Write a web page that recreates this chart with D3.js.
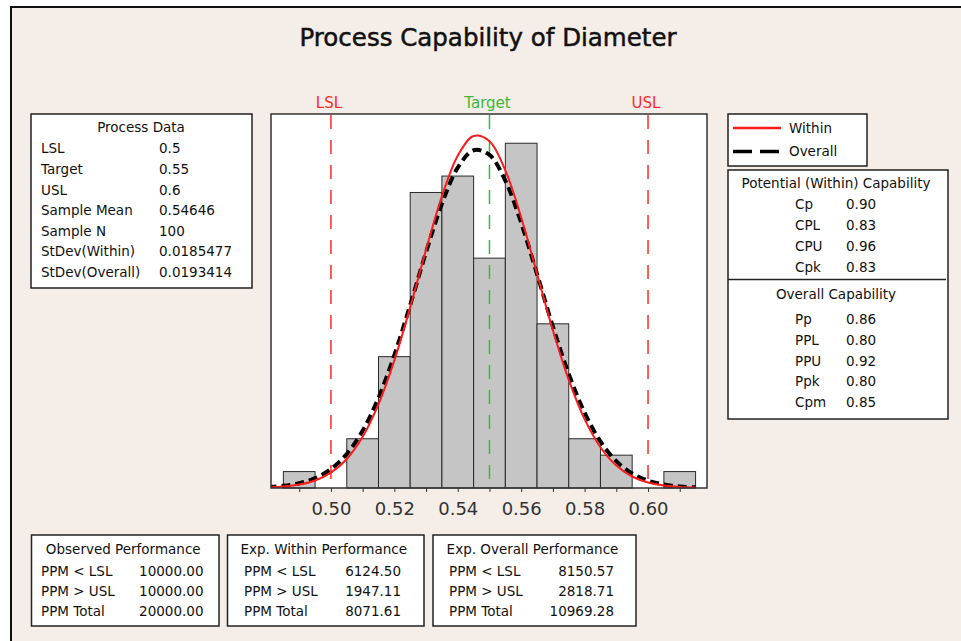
<!DOCTYPE html>
<html><head><meta charset="utf-8">
<script src="https://cdn.jsdelivr.net/npm/d3@7/dist/d3.min.js"></script>
<style>
html,body{margin:0;padding:0;background:#fff;}
svg{display:block;font-family:"DejaVu Sans",sans-serif;}
</style></head><body>
<script>
// ---------- data ----------
const binEdges = [0.485,0.495,0.505,0.515,0.525,0.535,0.545,0.555,0.565,0.575,0.585,0.595,0.605,0.615];
const binCounts = [1,0,3,8,18,19,14,21,10,3,2,0,1];
const curveX = [0.480,0.485,0.490,0.495,0.500,0.505,0.510,0.515,0.520,0.525,0.530,0.535,0.540,0.545,0.550,0.555,0.560,0.565,0.570,0.575,0.580,0.585,0.590,0.595,0.600,0.605,0.610,0.615];
const withinY = [0.035,0.089,0.209,0.458,0.934,1.768,3.116,5.105,7.775,11.014,14.509,17.772,20.244,21.443,21.122,19.347,16.479,13.052,9.613,6.585,4.194,2.484,1.368,0.700,0.334,0.148,0.061,0.023];
const overallY = [0.056,0.132,0.291,0.599,1.152,2.074,3.491,5.495,8.093,11.147,14.363,17.309,19.511,20.571,20.287,18.714,16.146,13.031,9.836,6.945,4.586,2.834,1.637,0.885,0.447,0.212,0.094,0.039];
const specNames = ["LSL","Target","USL"];
const specValues = [0.5,0.55,0.6];
const minorTicks = [0.49,0.50,0.51,0.52,0.53,0.54,0.55,0.56,0.57,0.58,0.59,0.60,0.61];
const tickLabels = [0.50,0.52,0.54,0.56,0.58,0.60];

const processLabels = ["LSL","Target","USL","Sample Mean","Sample N","StDev(Within)","StDev(Overall)"];
const processValues = ["0.5","0.55","0.6","0.54646","100","0.0185477","0.0193414"];
const potentialLabels = ["Cp","CPL","CPU","Cpk"];
const potentialValues = ["0.90","0.83","0.96","0.83"];
const overallLabels = ["Pp","PPL","PPU","Ppk","Cpm"];
const overallValues = ["0.86","0.80","0.92","0.80","0.85"];
const perfLabels = ["PPM < LSL","PPM > USL","PPM Total"];
const observedPerf = ["10000.00","10000.00","20000.00"];
const withinPerf = ["6124.50","1947.11","8071.61"];
const overallPerf = ["8150.57","2818.71","10969.28"];
const legendNames = ["Within","Overall"];

// ---------- layout ----------
const W = 961, H = 641;
const BG = "#f5ede7";
const FS = "13.5px";
const svg = d3.select("body").append("svg").attr("width", W).attr("height", H);

svg.append("rect").attr("width", W).attr("height", H).attr("fill", "#fff");
svg.append("rect").attr("x", 11).attr("y", 7).attr("width", W).attr("height", H).attr("fill", BG)
  .attr("stroke", "#111").attr("stroke-width", 2);

svg.append("text").attr("x", 488).attr("y", 37).attr("dy", "0.36em").attr("text-anchor", "middle")
  .attr("font-size", "24.5px").attr("fill", "#111").attr("stroke", "#111").attr("stroke-width", 0.5)
  .text("Process Capability of Diameter");

const plot = {l: 271, t: 114, r: 707, b: 488};
const x = d3.scaleLinear().domain([0.4811, 0.6186]).range([plot.l, plot.r]);
const y = d3.scaleLinear().domain([0, 22.78]).range([plot.b, plot.t]);

svg.append("rect").attr("x", plot.l).attr("y", plot.t).attr("width", plot.r - plot.l).attr("height", plot.b - plot.t)
  .attr("fill", "#fff");

svg.append("defs").append("clipPath").attr("id", "clip").append("rect")
  .attr("x", plot.l).attr("y", plot.t).attr("width", plot.r - plot.l).attr("height", plot.b - plot.t);

const bins = binCounts.map((c, i) => ({x0: binEdges[i], x1: binEdges[i + 1], c}));
svg.append("g").selectAll("rect").data(bins.filter(d => d.c > 0)).join("rect")
  .attr("x", d => x(d.x0)).attr("width", d => x(d.x1) - x(d.x0))
  .attr("y", d => y(d.c)).attr("height", d => y(0) - y(d.c))
  .attr("fill", "#c5c5c5").attr("stroke", "#2a2a2a").attr("stroke-width", 1);

// spec lines
const specColors = ["#ff2a2a", "#3cb83c", "#ff2a2a"];
specValues.forEach((v, i) => {
  svg.append("line").attr("x1", x(v)).attr("x2", x(v)).attr("y1", plot.t + 1).attr("y2", plot.b)
    .attr("stroke", specColors[i]).attr("stroke-width", 1.5).attr("stroke-dasharray", "14,11");
  svg.append("text").attr("x", x(v) - 2).attr("y", 103).attr("dy", "0.36em").attr("text-anchor", "middle")
    .attr("font-size", "15px").attr("fill", specColors[i]).text(specNames[i]);
});

// curves
const line = d3.line().x((d, i) => x(curveX[i])).y(d => y(d)).curve(d3.curveCatmullRom);
const cg = svg.append("g").attr("clip-path", "url(#clip)");
cg.append("path").attr("d", line(overallY)).attr("fill", "none").attr("stroke", "#000")
  .attr("stroke-width", 4).attr("stroke-dasharray", "9,5");
cg.append("path").attr("d", line(withinY)).attr("fill", "none").attr("stroke", "#ff1a1a")
  .attr("stroke-width", 2);

// frame
svg.append("rect").attr("x", plot.l).attr("y", plot.t).attr("width", plot.r - plot.l).attr("height", plot.b - plot.t)
  .attr("fill", "none").attr("stroke", "#333").attr("stroke-width", 1.5);

// axis
const ax = svg.append("g").attr("transform", `translate(0,${plot.b})`)
  .call(d3.axisBottom(x).tickValues(minorTicks).tickSize(4).tickFormat(""));
ax.select(".domain").remove();
ax.selectAll("line").attr("stroke", "#333");
const ax2 = svg.append("g").attr("transform", `translate(0,${plot.b})`)
  .call(d3.axisBottom(x).tickValues(tickLabels).tickSize(0).tickPadding(14).tickFormat(d3.format(".2f")));
ax2.select(".domain").remove();
ax2.selectAll("text").attr("font-size", "18px").attr("font-family", "DejaVu Sans").attr("fill", "#333");

// helper box
function box(x0, y0, x1, y1) {
  svg.append("rect").attr("x", x0).attr("y", y0).attr("width", x1 - x0).attr("height", y1 - y0)
    .attr("fill", "#fff").attr("stroke", "#222").attr("stroke-width", 1.5);
}
function txt(xp, yp, s, anchor) {
  svg.append("text").attr("x", xp).attr("y", yp).attr("dy", "0.36em").attr("text-anchor", anchor || "start")
    .attr("font-size", FS).attr("fill", "#111").text(s);
}

// Process data
box(31, 114, 252, 288);
txt(141, 127, "Process Data", "middle");
processLabels.forEach((s, i) => {
  txt(41, 148.5 + i * 20.6, s);
  txt(159, 148.5 + i * 20.6, processValues[i]);
});

// legend
box(728, 114, 867, 166);
svg.append("line").attr("x1", 733).attr("x2", 781).attr("y1", 128).attr("y2", 128)
  .attr("stroke", "#ff1a1a").attr("stroke-width", 2.5);
svg.append("line").attr("x1", 733).attr("x2", 779).attr("y1", 151.5).attr("y2", 151.5)
  .attr("stroke", "#000").attr("stroke-width", 3.5).attr("stroke-dasharray", "19,8");
txt(789, 128, legendNames[0]);
txt(789, 151.5, legendNames[1]);

// capability box
box(728, 170, 948, 419);
svg.append("line").attr("x1", 728).attr("x2", 946).attr("y1", 279.5).attr("y2", 279.5)
  .attr("stroke", "#222").attr("stroke-width", 1.5);
txt(836, 183, "Potential (Within) Capability", "middle");
potentialLabels.forEach((s, i) => {
  txt(795, 204.5 + i * 20.8, s);
  txt(846, 204.5 + i * 20.8, potentialValues[i]);
});
txt(836, 294, "Overall Capability", "middle");
overallLabels.forEach((s, i) => {
  txt(795, 319.5 + i * 20.7, s);
  txt(846, 319.5 + i * 20.7, overallValues[i]);
});

// performance boxes
const perfBoxes = [
  {x0: 31.5, x1: 219, title: "Observed Performance", vals: observedPerf, lx: 41, vx: 203.5},
  {x0: 227.5, x1: 424, title: "Exp. Within Performance", vals: withinPerf, lx: 244, vx: 401},
  {x0: 433, x1: 636, title: "Exp. Overall Performance", vals: overallPerf, lx: 449, vx: 614}
];
perfBoxes.forEach(b => {
  box(b.x0, 535, b.x1, 626);
  txt((b.x0 + b.x1) / 2 - 2, 549.5, b.title, "middle");
  perfLabels.forEach((s, i) => {
    txt(b.lx, 571 + i * 20.2, s);
    txt(b.vx, 571 + i * 20.2, b.vals[i], "end");
  });
});
</script>
</body></html>
